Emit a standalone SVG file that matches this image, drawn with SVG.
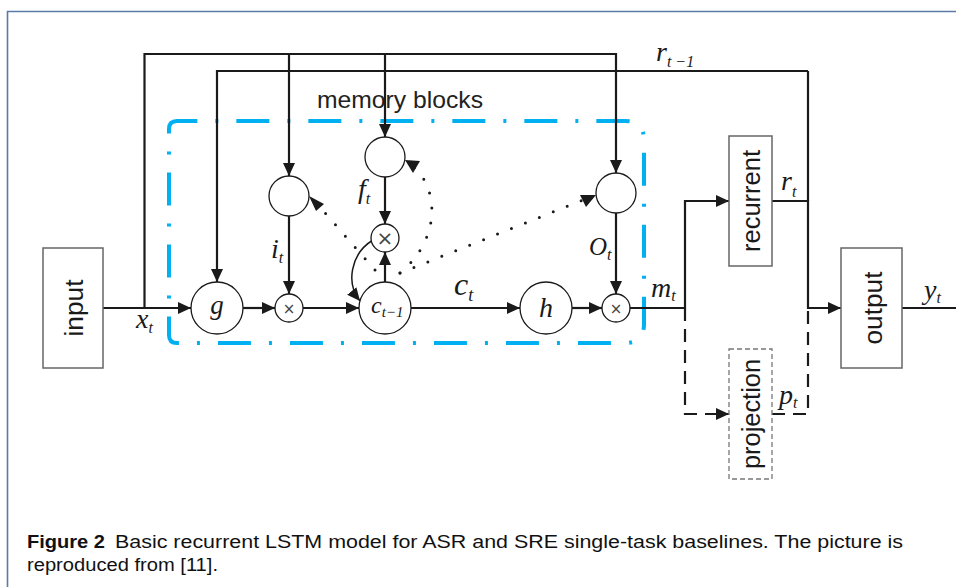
<svg xmlns="http://www.w3.org/2000/svg" width="956" height="587" viewBox="0 0 956 587">
<defs>
<marker id="arr" markerUnits="userSpaceOnUse" markerWidth="14" markerHeight="12" refX="13" refY="6" orient="auto">
<path d="M0,0 L13,6 L0,12 z" fill="#1a1a1a"/>
</marker>
<style>
.ln{fill:none;stroke:#1a1a1a;stroke-width:2.2}
.dash{fill:none;stroke:#1a1a1a;stroke-width:2.2;stroke-dasharray:13 8}
.dot{fill:none;stroke:#1a1a1a;stroke-width:3;stroke-linecap:round;stroke-dasharray:0 15}
.c{fill:#fff;stroke:#1a1a1a;stroke-width:1.3}
.box{fill:#fff;stroke:#666;stroke-width:1.5}
.lbl{font-family:"Liberation Sans",Arial,sans-serif;font-size:25.5px;fill:#1a1a1a;text-anchor:middle}
.m{font-family:"Liberation Serif","Times New Roman",serif;font-style:italic;fill:#1a1a1a}
.x{font-family:"DejaVu Sans",sans-serif;fill:#444;text-anchor:middle}
.cap{font-family:"Liberation Sans",Arial,sans-serif;font-size:17.5px;fill:#111}
</style>
</defs>
<rect width="956" height="587" fill="#fff"/>
<path d="M7.5,587 V11.5 H956" fill="none" stroke="#5b7ba6" stroke-width="1.6"/>

<g id="memory-block">
<path d="M169,129 Q169,121 177,121 H625 Q644,121 644,140 V324 Q644,343 625,343 H177 Q169,343 169,335 Z" fill="none" stroke="#00b0f0" stroke-width="4" stroke-dasharray="33 18 3 18"/>
<text x="317" y="108" font-family="Liberation Sans,Arial,sans-serif" font-size="24" fill="#222" textLength="166" lengthAdjust="spacingAndGlyphs">memory blocks</text>
</g>

<g id="connectors">
<path class="ln" d="M103,308 H191" marker-end="url(#arr)"/>
<path class="ln" d="M144.5,308 V54 H616 V173" marker-end="url(#arr)"/>
<path class="ln" d="M289,54 V176" marker-end="url(#arr)"/>
<path class="ln" d="M385,54 V137" marker-end="url(#arr)"/>
<path class="ln" d="M808,71 H217 V282" marker-end="url(#arr)"/>
<path class="ln" d="M808,71 V201"/>
<path class="ln" d="M772,201 H808 V308 H841" marker-end="url(#arr)"/>
<path class="ln" d="M243,308 H275" marker-end="url(#arr)"/>
<path class="ln" d="M289,216 V294" marker-end="url(#arr)"/>
<path class="ln" d="M303,308 H359" marker-end="url(#arr)"/>
<path class="ln" d="M385,177 V224" marker-end="url(#arr)"/>
<path class="ln" d="M385,282 V252" marker-end="url(#arr)"/>
<path d="M373,240 C350,254 346,284 360,301" fill="none" stroke="#1a1a1a" stroke-width="1.5" marker-end="url(#arr)"/>
<path class="ln" d="M411,308 H520" marker-end="url(#arr)"/>
<path class="ln" d="M572,308 H602" marker-end="url(#arr)"/>
<path class="ln" d="M616,213 V294" marker-end="url(#arr)"/>
<path class="ln" d="M630,308 H685 V201 H729" marker-end="url(#arr)"/>
<path class="ln" d="M902,308 H956"/>
<path class="dash" d="M685,308 V414 H729" marker-end="url(#arr)"/>
<path class="dash" d="M772,414 H808 V308"/>
<path class="dot" d="M375,270 L319,206"/>
<path d="M324,204 L309,196 L316,211 z" fill="#1a1a1a"/>
<path class="dot" d="M400,273 C440,240 440,190 413,166"/>
<path d="M420,161 L405,160 L413,173 z" fill="#1a1a1a"/>
<path class="dot" d="M400,273 L583,200"/>
<path d="M596,195 L580,195 L586,207 z" fill="#1a1a1a"/>
</g>

<g id="input"><rect class="box" x="43" y="248" width="60" height="120"/><text class="lbl" transform="translate(83,308) rotate(-90)" textLength="57" lengthAdjust="spacingAndGlyphs">input</text></g>
<g id="g-node"><circle class="c" cx="217" cy="308" r="26"/><text class="m" x="217" y="314" text-anchor="middle" style="font-size:27px">g</text></g>
<g id="i-gate"><circle class="c" cx="289" cy="196" r="20"/></g>
<g id="f-gate"><circle class="c" cx="385" cy="157" r="20"/></g>
<g id="o-gate"><circle class="c" cx="616" cy="193" r="20"/></g>
<g id="i-mult"><circle class="c" cx="289" cy="308" r="14"/><text class="x" x="289" y="313.5" style="font-size:15px">×</text></g>
<g id="f-mult"><circle class="c" cx="385" cy="238" r="14"/><text class="x" x="385" y="245" style="font-size:20px">×</text></g>
<g id="o-mult"><circle class="c" cx="616" cy="308" r="14"/><text class="x" x="616" y="313.5" style="font-size:15px">×</text></g>
<g id="cell"><circle class="c" cx="385" cy="308" r="26"/><text class="m" x="371" y="313" style="font-size:24px">c<tspan style="font-size:15px" dy="4">t−1</tspan></text></g>
<g id="h-node"><circle class="c" cx="546" cy="308" r="26"/><text class="m" x="546" y="317" text-anchor="middle" style="font-size:28px">h</text></g>
<g id="recurrent"><rect class="box" x="729" y="136" width="43" height="130"/><text class="lbl" transform="translate(760,201) rotate(-90)" textLength="102" lengthAdjust="spacingAndGlyphs">recurrent</text></g>
<g id="projection"><rect x="729" y="349" width="43" height="130" fill="#fff" stroke="#777" stroke-width="1.3" stroke-dasharray="5 3"/><text class="lbl" transform="translate(760,414) rotate(-90)" textLength="110" lengthAdjust="spacingAndGlyphs">projection</text></g>
<g id="output"><rect class="box" x="841" y="248" width="61" height="120"/><text class="lbl" transform="translate(882,308) rotate(-90)" textLength="73" lengthAdjust="spacingAndGlyphs">output</text></g>

<g id="labels" style="font-size:28px">
<text class="m" x="136" y="328" style="font-size:28px">x<tspan style="font-size:16px" dy="5">t</tspan></text>
<text class="m" x="271" y="258" style="font-size:28px">i<tspan style="font-size:16px" dy="5">t</tspan></text>
<text class="m" x="358" y="198" style="font-size:28px">f<tspan style="font-size:16px" dy="6">t</tspan></text>
<text class="m" x="589" y="255" style="font-size:25px">O<tspan style="font-size:16px" dy="5">t</tspan></text>
<text class="m" x="454" y="295" style="font-size:32px">c<tspan style="font-size:18px" dy="6">t</tspan></text>
<text class="m" x="651" y="297" style="font-size:28px">m<tspan style="font-size:16px" dy="4">t</tspan></text>
<text class="m" x="924" y="299" style="font-size:28px">y<tspan style="font-size:16px" dy="4">t</tspan></text>
<text class="m" x="779" y="404" style="font-size:28px">p<tspan style="font-size:16px" dy="4">t</tspan></text>
<text class="m" x="781" y="190" style="font-size:28px">r<tspan style="font-size:16px" dy="7">t</tspan></text>
<text class="m" x="656" y="61" style="font-size:28px">r<tspan style="font-size:16px" dy="6">t −1</tspan></text>
</g>

<g id="caption">
<text class="cap" x="27" y="548" font-weight="bold" textLength="78" lengthAdjust="spacingAndGlyphs">Figure 2</text>
<text class="cap" x="115" y="548" textLength="788" lengthAdjust="spacingAndGlyphs">Basic recurrent LSTM model for ASR and SRE single-task baselines. The picture is</text>
<text class="cap" x="27" y="571" textLength="191" lengthAdjust="spacingAndGlyphs">reproduced from [11].</text>
</g>
</svg>
